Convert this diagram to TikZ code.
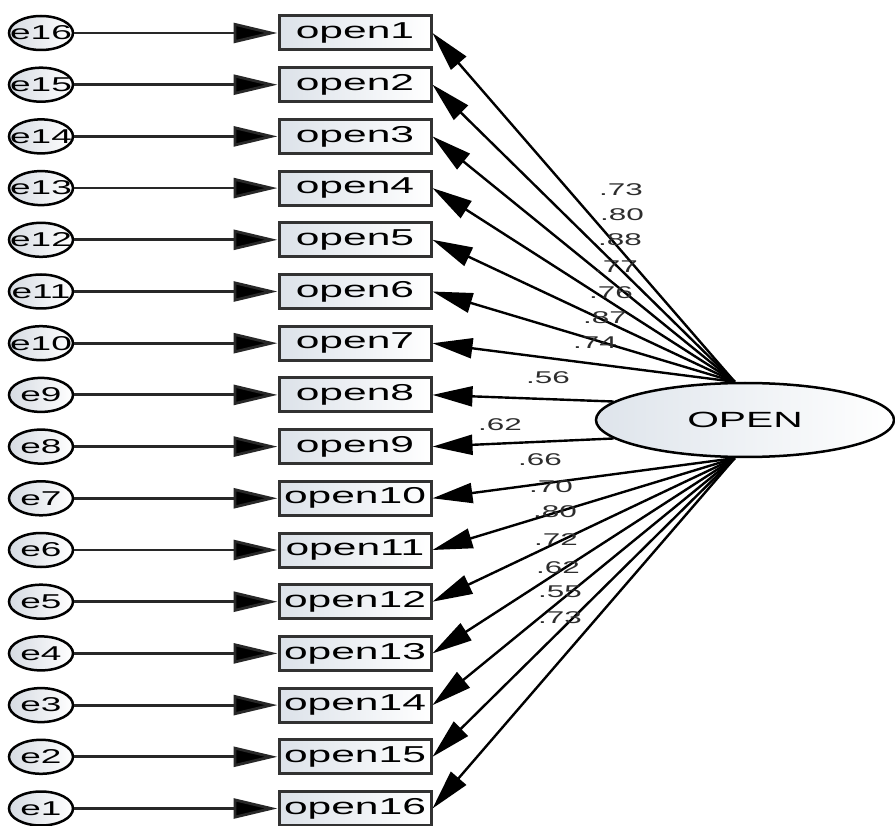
\documentclass[tikz,border=0pt]{standalone}
\usepackage{fontspec}
\newfontfamily\amos[FakeStretch=1.85]{Liberation Sans}
\usetikzlibrary{arrows.meta,shapes.geometric}
\definecolor{errgray}{RGB}{214,219,226}
\definecolor{boxfill}{RGB}{220,226,233}
\definecolor{boxedge}{RGB}{50,50,50}
\definecolor{latfill}{RGB}{222,228,235}
\definecolor{pathgray}{RGB}{40,40,40}
\definecolor{labgray}{RGB}{45,45,45}
\begin{document}
\begin{tikzpicture}[x=1pt,y=-1pt,
  errnode/.style={ellipse,draw=black,line width=2.5pt,minimum width=64pt,minimum height=34pt,
    inner sep=0pt,left color=errgray,right color=white,font=\amos\fontsize{20}{20}\selectfont},
  itembox/.style={rectangle,draw=boxedge,line width=3pt,minimum width=152pt,minimum height=34pt,
    inner sep=0pt,left color=boxfill,right color=white,font=\amos\fontsize{23}{23}\selectfont},
  latent/.style={ellipse,draw=black,line width=2.5pt,minimum width=298pt,minimum height=74pt,
    inner sep=0pt,left color=latfill,right color=white,font=\amos\fontsize{22}{22}\selectfont},
  errpath/.style={draw=pathgray,line width=2.8pt,-{Triangle[length=44pt,width=20pt,fill=black]}},
  loadpath/.style={draw=black,line width=2.4pt,-{Triangle[length=40pt,width=20pt,fill=black]}},
  loadlabel/.style={inner sep=0pt,text=labgray,font=\amos\fontsize{17}{17}\selectfont}
]
\useasboundingbox (0,0) rectangle (895,826);

% observed items and their error terms
\foreach \i in {1,...,16} {
  \pgfmathsetmacro\yy{33+(\i-1)*51.7}
  \pgfmathtruncatemacro\ee{17-\i}
  \node[itembox] (open\i) at (355,\yy) {open\i};
  \node[errnode] (e\ee) at (41,\yy) {\makebox[0pt]{e\ee}};
  \draw[errpath] (e\ee) -- (open\i);
}

% latent factor
\node[latent] (OPEN) at (745,420) {OPEN};
\coordinate (fanTop) at (OPEN.105);
\coordinate (fanBot) at (OPEN.255);

% factor loadings
\foreach \i in {1,...,7} \draw[loadpath] (fanTop) -- (open\i.east);
\draw[loadpath] (OPEN.172) -- (open8.east);
\draw[loadpath] (OPEN.188) -- (open9.east);
\foreach \i in {10,...,16} \draw[loadpath] (fanBot) -- (open\i.east);

% loading estimates
\node[loadlabel] (l1)  at (621,190) {.73};
\node[loadlabel] (l2)  at (622,215) {.80};
\node[loadlabel] (l3)  at (620,240) {.88};
\node[loadlabel] (l4)  at (616,267) {.77};
\node[loadlabel] (l5)  at (611,293) {.76};
\node[loadlabel] (l6)  at (605,318) {.87};
\node[loadlabel] (l7)  at (595,343) {.74};
\node[loadlabel] (l8)  at (548,378) {.56};
\node[loadlabel] (l9)  at (500,425) {.62};
\node[loadlabel] (l10) at (540,460) {.66};
\node[loadlabel] (l11) at (551,487) {.70};
\node[loadlabel] (l12) at (555,512) {.80};
\node[loadlabel] (l13) at (556,540) {.72};
\node[loadlabel] (l14) at (558,568) {.62};
\node[loadlabel] (l15) at (560,592) {.55};
\node[loadlabel] (l16) at (560,618) {.73};
\end{tikzpicture}
\end{document}
